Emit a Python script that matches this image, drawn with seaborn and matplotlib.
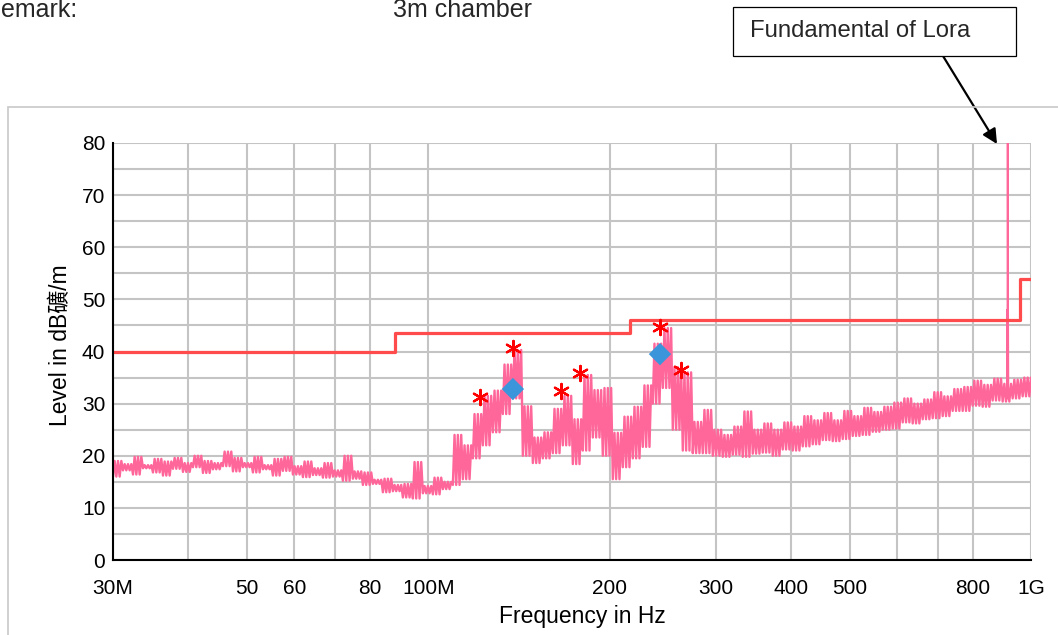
import numpy as np
import pandas as pd
import matplotlib
matplotlib.use("Agg")
import matplotlib.pyplot as plt
from matplotlib.patches import Rectangle
from matplotlib.ticker import FixedLocator, NullFormatter, MultipleLocator
import seaborn as sns

# ---------------- data ----------------
# measured level (dBuV/m): lower / upper edge of the noisy trace,
# read at points evenly spaced on the log axis 30 MHz .. 1 GHz
band_lo = [
    16.0, 17.2, 16.4, 17.6, 16.8, 16.2, 17.5, 16.9, 17.8, 16.7,
    17.4, 18.0, 17.0, 17.8, 16.8, 17.4, 16.2, 17.1, 16.4, 15.9,
    16.3, 15.8, 16.0, 15.2, 15.6, 14.4, 14.6, 13.0, 13.2, 12.0,
    11.8, 12.8, 12.6, 13.6, 14.4, 15.5, 19.5, 22.0, 24.5, 28.0,
    31.0, 20.0, 18.6, 19.5, 20.5, 22.0, 18.4, 21.0, 23.5, 20.0,
    15.5, 17.8, 19.5, 21.7, 30.0, 33.0, 25.0, 21.0, 20.5, 20.5,
    20.0, 19.8, 20.2, 19.8, 20.4, 20.6, 20.0, 21.2, 21.0, 21.8,
    22.2, 23.0, 22.8, 23.2, 23.8, 24.0, 24.6, 25.0, 25.2, 26.4,
    26.2, 27.0, 27.2, 27.6, 28.6, 28.6, 29.6, 29.4, 30.6, 30.4,
    31.0, 31.4,
]
band_hi = [
    19.0, 18.4, 19.8, 18.2, 19.4, 18.9, 19.6, 18.6, 20.0, 19.0,
    18.6, 20.8, 19.6, 18.6, 19.8, 18.2, 19.4, 19.8, 18.0, 18.9,
    17.6, 18.6, 17.2, 20.0, 17.0, 16.8, 15.4, 15.6, 14.4, 14.6,
    18.8, 14.2, 15.8, 15.0, 24.0, 22.0, 28.0, 31.5, 32.5, 37.5,
    40.3, 29.5, 23.5, 24.5, 29.0, 31.5, 27.0, 35.5, 32.6, 33.0,
    24.4, 27.5, 29.4, 33.5, 41.5, 44.5, 37.0, 36.0, 26.5, 28.8,
    25.0, 24.0, 25.6, 28.5, 25.0, 26.2, 25.0, 26.4, 25.6, 27.6,
    26.8, 28.2, 26.8, 28.6, 27.6, 29.2, 28.4, 29.4, 30.2, 31.0,
    30.0, 30.8, 32.2, 31.4, 32.8, 33.2, 34.4, 33.6, 34.8, 33.8,
    34.6, 35.0,
]
# trace: each read pair swept three times (low, high, ...) on the scan grid
trace_level = np.column_stack([band_lo, band_hi] * 3).ravel()
trace_freq = np.geomspace(30, 1000, len(trace_level))  # MHz scan grid

# LoRa fundamental spike
lora_freq = [912, 913, 914, 915, 916, 917]
lora_level = [31.0, 48.0, 31.0, 85.0, 47.0, 31.0]

# limit line (dBuV/m)
limit_freq = [30, 88, 216, 960, 1000]
limit_level = [40.0, 43.5, 46.0, 54.0, 54.0]

# peak (asterisk) and quasi-peak (diamond) markers
peak_freq = [121.9, 138.2, 166.1, 178.6, 242.4, 262.7]
peak_level = [31.3, 40.7, 32.4, 35.8, 44.7, 36.4]
qp_freq = [138.2, 242.4]
qp_level = [32.8, 39.5]

xtick_vals = [30, 50, 60, 80, 100, 200, 300, 400, 500, 800, 1000]
xtick_labels = ["30M", "50", "60", "80", "100M", "200", "300", "400", "500", "800", "1G"]
xminor_vals = [40, 70, 600, 700]

# ---------------- style ----------------
sns.set_theme(style="white")
plt.rcParams["font.family"] = ["Liberation Sans", "Noto Sans CJK SC"]
FS = 15

TRACE = "#FF6699"
LIMIT = "#FF4B4B"
GRID = "#C4C4C4"

fig = plt.figure(figsize=(10.58, 6.35), dpi=100)
ax = fig.add_axes([113 / 1058, 1 - 560 / 635, 918 / 1058, 417 / 635])

sns.lineplot(x=trace_freq, y=trace_level, ax=ax, color=TRACE, lw=1.7,
             estimator=None, sort=False, zorder=3)
sns.lineplot(x=lora_freq, y=lora_level, ax=ax, color=TRACE, lw=1.4,
             estimator=None, sort=False, zorder=3)
sns.lineplot(x=limit_freq, y=limit_level, ax=ax, color=LIMIT, lw=2.3,
             drawstyle="steps-post", estimator=None, sort=False, zorder=4)
sns.scatterplot(x=peak_freq, y=peak_level, ax=ax, marker=(6, 2, 0), s=120,
                color="#FF0000", linewidth=1.6, zorder=5)
sns.scatterplot(x=qp_freq, y=qp_level, ax=ax, marker="D", s=130,
                color="#3A95DA", edgecolor="none", zorder=6)

ax.set_xscale("log")
ax.set_xlim(30, 1000)
ax.set_ylim(0, 80)

ax.xaxis.set_major_locator(FixedLocator(xtick_vals))
ax.set_xticklabels(xtick_labels)
ax.xaxis.set_minor_locator(FixedLocator(xminor_vals))
ax.xaxis.set_minor_formatter(NullFormatter())
ax.yaxis.set_major_locator(MultipleLocator(10))
ax.yaxis.set_minor_locator(MultipleLocator(5))

ax.grid(which="both", color=GRID, lw=1.5, zorder=0)
ax.set_axisbelow(True)

for s in ["top", "right"]:
    ax.spines[s].set_visible(False)
for s in ["left", "bottom"]:
    ax.spines[s].set_color("black")
    ax.spines[s].set_linewidth(1.5)
    ax.spines[s].set_zorder(7)

ax.tick_params(which="both", direction="inout", length=9, width=1.3, color="black",
               labelsize=FS, labelcolor="black")
ax.tick_params(axis="x", which="both", pad=9)
ax.tick_params(axis="y", which="both", pad=1)

ax.set_xlabel("Frequency in Hz", fontsize=16.5, color="black")
ax.xaxis.set_label_coords((582 - 113) / 918, (560 - 605) / 417)
ax.set_ylabel("Level in dB礦/m", fontsize=16.5, color="black")
ax.yaxis.set_label_coords((72 - 113) / 918, (560 - 345) / 417)

# outer frame
fig.patches.append(Rectangle((8 / 1058, -0.2), 1.2, 0.2 + (1 - 107 / 635),
                             transform=fig.transFigure, fill=False,
                             edgecolor="#C8C8C8", lw=1.2, zorder=0))

# header texts
fig.text(-17 / 1058, 1 - 17 / 635, "Remark:", fontsize=18, ha="left", va="baseline")
fig.text(393 / 1058, 1 - 17 / 635, "3m chamber", fontsize=18, ha="left", va="baseline")

# annotation box
fig.patches.append(Rectangle((733 / 1058, 1 - 56 / 635), 283 / 1058, 49 / 635,
                             transform=fig.transFigure, fill=True, facecolor="white",
                             edgecolor="black", lw=0.9))
fig.text(750 / 1058, 1 - 31 / 635, "Fundamental of Lora", fontsize=17.2,
         ha="left", va="center")
ax.annotate("", xy=(997 / 1058, 1 - 144 / 635), xycoords="figure fraction",
            xytext=(943 / 1058, 1 - 56 / 635), textcoords="figure fraction",
            arrowprops=dict(arrowstyle="-|>", color="black", lw=1.6,
                            mutation_scale=22, shrinkA=0, shrinkB=0),
            annotation_clip=False)

fig.savefig("out.png", dpi=100)
